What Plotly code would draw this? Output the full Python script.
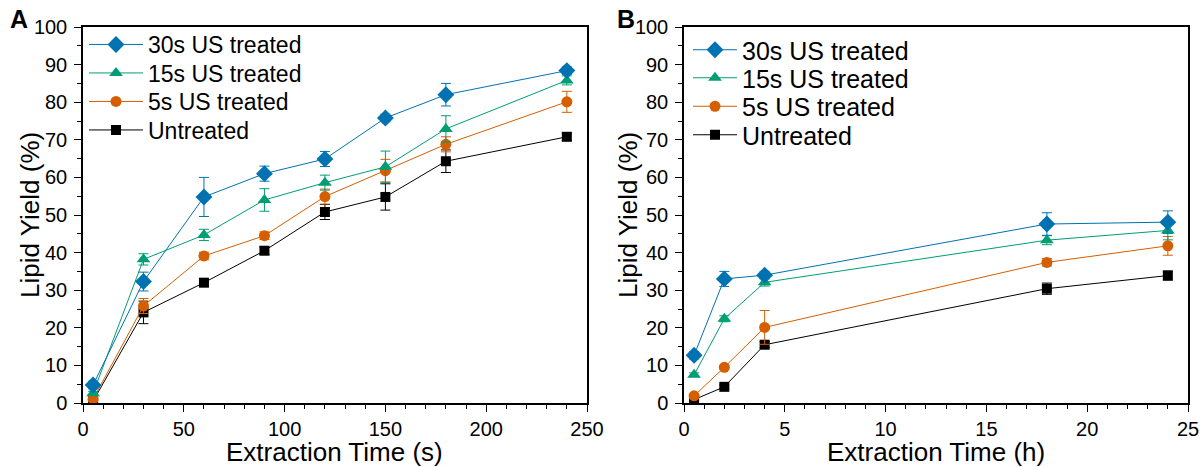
import plotly.graph_objects as go

# ---- Data ----
series_names = ["30s US treated", "15s US treated", "5s US treated", "Untreated"]

time_a = [5, 30, 60, 90, 120, 150, 180, 240]  # seconds
yield_a_30s = [4.8, 32.3, 54.8, 61.0, 64.9, 75.8, 82.0, 88.4]
err_a_30s = [1.0, 2.5, 5.2, 2.0, 2.0, 1.0, 3.0, 1.0]
yield_a_15s = [2.6, 38.2, 44.7, 54.0, 58.6, 62.8, 72.9, 85.8]
err_a_15s = [0.5, 1.5, 1.5, 3.0, 2.0, 4.2, 3.5, 1.2]
yield_a_5s = [1.0, 25.8, 39.1, 44.5, 54.9, 61.8, 68.8, 80.1]
err_a_5s = [0.5, 2.0, 1.0, 1.0, 2.0, 3.0, 2.0, 2.8]
yield_a_un = [0.5, 24.1, 32.0, 40.5, 50.8, 54.8, 64.3, 70.8]
err_a_un = [0.3, 3.0, 1.0, 1.0, 2.0, 3.5, 3.0, 1.0]

time_b = [0.5, 2, 4, 18, 24]  # hours
yield_b_30s = [12.7, 33.0, 34.0, 47.6, 48.1]
err_b_30s = [1.0, 2.0, 1.0, 3.0, 3.0]
yield_b_15s = [7.5, 22.4, 32.1, 43.3, 45.9]
err_b_15s = [0.5, 0.8, 1.0, 1.2, 2.5]
yield_b_5s = [1.9, 9.5, 20.1, 37.4, 41.8]
err_b_5s = [0.5, 0.5, 4.5, 1.0, 2.5]
yield_b_un = [0.9, 4.3, 15.5, 30.4, 33.9]
err_b_un = [0.3, 0.5, 0.8, 1.5, 1.2]

x_ticks_a = [0, 50, 100, 150, 200, 250]
x_ticks_b = [0, 5, 10, 15, 20, 25]
y_ticks = list(range(0, 101, 10))

colors = ["#0072B2", "#009E73", "#D55E00", "#000000"]
symbols = ["diamond", "triangle-up", "circle", "square"]
msizes = [13, 12, 11, 10]

FONT = "Arial, Liberation Sans"

W, H = 1202, 467


def px(x):
    return x / W


def py(y):
    return 1 - y / H


fig = go.Figure()

panels = [
    ("x", "y", 2, time_a,
     [yield_a_30s, yield_a_15s, yield_a_5s, yield_a_un],
     [err_a_30s, err_a_15s, err_a_5s, err_a_un]),
    ("x2", "y2", 6, time_b,
     [yield_b_30s, yield_b_15s, yield_b_5s, yield_b_un],
     [err_b_30s, err_b_15s, err_b_5s, err_b_un]),
]

for xa, ya, leg0, tx, ys, es in panels:
    # draw untreated first so 30s ends on top
    for i in reversed(range(4)):
        fig.add_trace(go.Scatter(
            x=tx, y=ys[i], name=series_names[i], mode="lines+markers",
            xaxis=xa, yaxis=ya, legend=f"legend{leg0 + i}", showlegend=True,
            line=dict(color=colors[i], width=1),
            marker=dict(symbol=symbols[i], size=msizes[i], color=colors[i],
                        line=dict(width=0)),
            error_y=dict(type="data", array=es[i], visible=True,
                         color=colors[i], thickness=1, width=5),
        ))

dom_y = [py(403), py(27)]
axis_common = dict(
    showline=True, linecolor="black", linewidth=1.5, mirror=True,
    ticks="outside", ticklen=7, tickwidth=1.2, tickcolor="black",
    showgrid=False, zeroline=False, automargin=False,
    tickfont=dict(family=FONT, size=20, color="black"),
)


def minor(d):
    return dict(ticks="outside", dtick=d, ticklen=4, tickwidth=1, tickcolor="black")


layout = dict(
    width=W, height=H, margin=dict(l=0, r=0, t=0, b=0),
    plot_bgcolor="white", paper_bgcolor="white", showlegend=True,
    xaxis=dict(domain=[px(83), px(587)], range=[0, 250], tickvals=x_ticks_a,
               minor=minor(10), anchor="y", **axis_common),
    yaxis=dict(domain=dom_y, range=[0, 100], tickvals=y_ticks, ticklabelstandoff=3,
               minor=minor(5), anchor="x", **axis_common),
    xaxis2=dict(domain=[px(684), px(1188)], range=[0, 25], tickvals=x_ticks_b,
                minor=minor(1), anchor="y2", **axis_common),
    yaxis2=dict(domain=dom_y, range=[0, 100], tickvals=y_ticks, ticklabelstandoff=3,
                minor=minor(5), anchor="x2", **axis_common),
)

# one legend per entry so the row spacing can match the reference
leg_y_a = [44.5, 73, 101.5, 130]
leg_y_b = [50, 78, 106.5, 135]
for i in range(4):
    layout[f"legend{i + 2}"] = dict(x=px(84), y=py(leg_y_a[i]), xanchor="left",
                                    yanchor="middle", bgcolor="rgba(0,0,0,0)",
                                    itemwidth=54,
                                    font=dict(family=FONT, size=23, color="black"))
    layout[f"legend{i + 6}"] = dict(x=px(688), y=py(leg_y_b[i]), xanchor="left",
                                    yanchor="middle", bgcolor="rgba(0,0,0,0)",
                                    itemwidth=44,
                                    font=dict(family=FONT, size=25, color="black"))

fig.update_layout(**layout)

annots = [
    ("<b>A</b>", 19, 19, 0, 25),
    ("<b>B</b>", 626, 19, 0, 25),
    ("Extraction Time (s)", 335, 451.5, 0, 26),
    ("Extraction Time (h)", 936, 451.5, 0, 26),
    ("Lipid Yield (%)", 30, 215, -90, 26),
    ("Lipid Yield (%)", 628, 215, -90, 26),
]
for text, x0, y0, ang, fs in annots:
    fig.add_annotation(text=text, x=px(x0), y=py(y0), xref="paper", yref="paper",
                       xanchor="center", yanchor="middle", showarrow=False,
                       textangle=ang,
                       font=dict(family=FONT, size=fs, color="black"))

fig.write_html("out.html", config={"displayModeBar": False},
               post_script="document.body.style.margin='0';")
